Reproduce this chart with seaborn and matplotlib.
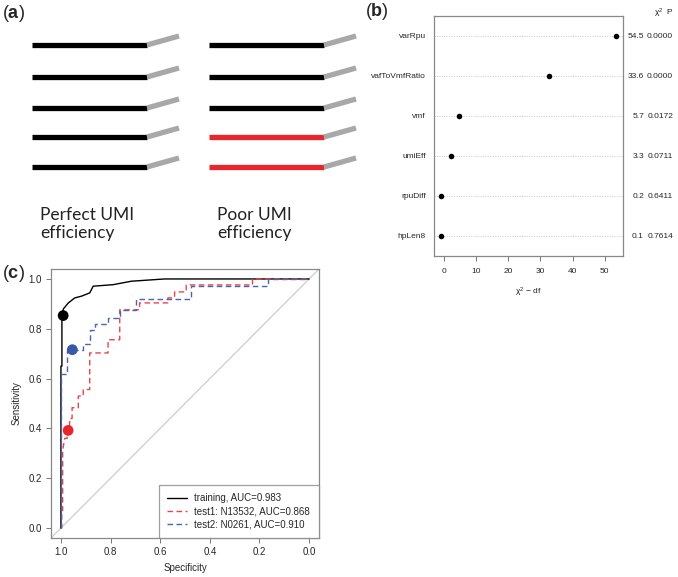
import numpy as np
import pandas as pd
import matplotlib
matplotlib.use('Agg')
import matplotlib.pyplot as plt
import seaborn as sns

sns.set_style('white')
plt.rcParams['font.family'] = ['Liberation Sans', 'DejaVu Sans']
plt.rcParams['mathtext.fontset'] = 'custom'
plt.rcParams['mathtext.rm'] = 'Liberation Sans'
plt.rcParams['mathtext.it'] = 'Liberation Sans:italic'
plt.rcParams['mathtext.bf'] = 'Liberation Sans:bold'

# ── Panel (a): UMI schematic ─────────────────────────────────
read_rows    = [1, 2, 3, 4, 5]
perfect_cols = ['black', 'black', 'black', 'black', 'black']
poor_cols    = ['black', 'black', 'black', '#e8262b', '#e8262b']
group_labels = ['Perfect UMI\nefficiency', 'Poor UMI\nefficiency']

# ── Panel (b): chi-square dot chart ──────────────────────────
b_vars  = ['varRpu', 'vafToVmfRatio', 'vmf', 'umiEff', 'rpuDiff', 'hpLen8']
b_chi2  = [54.5, 33.6, 5.7, 3.3, 0.2, 0.1]
b_df    = [1, 1, 1, 1, 1, 1]
b_p     = ['0.0000', '0.0000', '0.0172', '0.0711', '0.6411', '0.7614']

# ── Panel (c): ROC curves (specificity, sensitivity) ─────────
train_spec = [1.0, 1.0, 0.996, 0.996, 0.99, 0.97, 0.944, 0.917, 0.884, 0.87,
              0.79, 0.716, 0.582, 0.0]
train_sens = [0.0, 0.65, 0.65, 0.853, 0.88, 0.904, 0.924, 0.931, 0.944, 0.971,
              0.977, 0.991, 1.0, 1.0]
test1_spec = [1.0, 0.997, 0.997, 0.993, 0.993, 0.985, 0.975, 0.975, 0.965, 0.965,
              0.955, 0.955, 0.93, 0.93, 0.91, 0.91, 0.884, 0.884, 0.81, 0.81,
              0.763, 0.763, 0.683, 0.683, 0.569, 0.569, 0.542, 0.542, 0.495,
              0.495, 0.228, 0.228, 0.0]
test1_sens = [0.0, 0.0, 0.07, 0.07, 0.31, 0.36, 0.36, 0.39, 0.39, 0.44,
              0.44, 0.483, 0.483, 0.53, 0.53, 0.556, 0.556, 0.703, 0.703, 0.756,
              0.756, 0.876, 0.876, 0.904, 0.904, 0.924, 0.924, 0.948, 0.948,
              0.976, 0.976, 1.0, 1.0]
test2_spec = [1.0, 1.0, 0.977, 0.977, 0.91, 0.91, 0.884, 0.884, 0.863, 0.863,
              0.81, 0.81, 0.763, 0.763, 0.696, 0.696, 0.475, 0.475, 0.167,
              0.167, 0.0]
test2_sens = [0.0, 0.62, 0.62, 0.716, 0.716, 0.74, 0.74, 0.796, 0.796, 0.82,
              0.82, 0.844, 0.844, 0.876, 0.876, 0.92, 0.92, 0.971, 0.971,
              1.0, 1.0]
roc_labels = ['training, AUC=0.983', 'test1: N13532, AUC=0.868',
              'test2: N0261, AUC=0.910']
roc_colors = ['black', '#e8454a', '#4a64b0']
cut_spec   = [0.991, 0.971, 0.954]
cut_sens   = [0.853, 0.392, 0.716]
cut_colors = ['black', '#e8262b', '#3a58a8']

W, H = 678, 577
fig = plt.figure(figsize=(W / 100, H / 100), dpi=100)

def px_axes(l, t, r, b):
    return fig.add_axes([l / W, 1 - b / H, (r - l) / W, (b - t) / H])

# ── (a) ──────────────────────────────────────────────────────
axa = px_axes(0, 0, 400, 290)
axa.set_xlim(0, 400)
axa.set_ylim(290, 0)
axa.axis('off')
row_y = {1: 45, 2: 77, 3: 108, 4: 137, 5: 167}
for x0, cols, lab in [(32, perfect_cols, group_labels[0]),
                      (209, poor_cols, group_labels[1])]:
    for r, c in zip(read_rows, cols):
        y = row_y[r]
        axa.plot([x0, x0 + 115], [y, y], color=c, lw=3.8,
                 solid_capstyle='butt')
        axa.plot([x0 + 115, x0 + 147], [y, y - 9], color='#a8a8a8', lw=3.8,
                 solid_capstyle='butt')
    axa.text(x0 + 8, 207, lab, fontsize=12.5, family=['Lato', 'DejaVu Sans'],
             color='#222222', va='top', ha='left', linespacing=1.15)

# ── (b) ──────────────────────────────────────────────────────
axb = px_axes(434, 16, 623, 256)
bdf = pd.DataFrame({'var': b_vars, 'pos': np.arange(len(b_vars)),
                    'x': np.array(b_chi2) - np.array(b_df)})
for p in bdf['pos']:
    axb.axhline(p, color='#c8c8c8', lw=0.7, ls=(0, (1, 1.5)), zorder=0)
sns.scatterplot(data=bdf, x='x', y='pos', color='black', s=16,
                edgecolor='black', linewidth=0, ax=axb, zorder=3)
axb.set_ylim(len(b_vars) - 0.5, -0.5)
axb.set_xlim(-3.08, 55.68)
axb.set_yticks(bdf['pos'])
axb.set_yticklabels(b_vars)
axb.set_xticks([0, 10, 20, 30, 40, 50])
axb.tick_params(axis='y', length=0, labelsize=6, pad=6)
axb.tick_params(axis='x', direction='out', length=3.5, width=0.7,
                color='#777777', labelsize=6, pad=5, bottom=True)
axb.set_xlabel('χ$^2$ − df', fontsize=6, labelpad=8)
axb.set_ylabel('')
for s in axb.spines.values():
    s.set_color('#888888')
    s.set_linewidth(0.9)
tr = axb.get_yaxis_transform()
for p, c, pv in zip(bdf['pos'], b_chi2, b_p):
    axb.text(1.111, p, f'{c:.1f}', transform=tr, ha='right', va='center',
             fontsize=6)
    axb.text(1.265, p, pv, transform=tr, ha='right', va='center', fontsize=6)
axb.text(1.217, 1.0125, 'χ$^2$  P', transform=axb.transAxes, ha='center',
         va='center', fontsize=6)

# ── (c) ──────────────────────────────────────────────────────
axc = px_axes(51, 269, 319, 538)
axc.axline((1, 0), (0, 1), color='#c8c8c8', lw=0.8, zorder=1)
curves = [(train_spec, train_sens, '-'),
          (test1_spec, test1_sens, (0, (4, 2.5))),
          (test2_spec, test2_sens, (0, (4, 2.5)))]
for (sx, sy, ls), lab, col in zip(curves, roc_labels, roc_colors):
    sns.lineplot(x=sx, y=sy, sort=False, estimator=None, color=col,
                 linestyle=ls, lw=1.0, label=lab, ax=axc, zorder=2)
sns.scatterplot(x=cut_spec, y=cut_sens, hue=cut_colors, palette=dict(
    zip(cut_colors, cut_colors)), s=60, linewidth=0, legend=False, ax=axc,
    zorder=4)
axc.set_xlim(1.04, -0.04)
axc.set_ylim(-0.04, 1.04)
axc.set_xticks([1.0, 0.8, 0.6, 0.4, 0.2, 0.0])
axc.set_yticks([0.0, 0.2, 0.4, 0.6, 0.8, 1.0])
axc.xaxis.set_major_formatter(matplotlib.ticker.FormatStrFormatter('%.1f'))
axc.yaxis.set_major_formatter(matplotlib.ticker.FormatStrFormatter('%.1f'))
axc.tick_params(direction='out', length=3.5, width=0.7, color='#777777',
                labelsize=7, pad=3, bottom=True, left=True)
axc.set_xlabel('Specificity', fontsize=7, labelpad=4)
axc.set_ylabel('Sensitivity', fontsize=7, labelpad=5)
for s in axc.spines.values():
    s.set_color('#888888')
    s.set_linewidth(0.9)
leg = axc.legend(loc='lower right', fontsize=7, frameon=True, fancybox=False,
                 borderaxespad=0, handlelength=2.0, handletextpad=0.8,
                 labelspacing=0.3, borderpad=0.9)
leg.get_frame().set_edgecolor('#888888')
leg.get_frame().set_linewidth(0.9)

# panel letters
for x, y, l in [(2, 13, 'a'), (365, 12, 'b'), (2, 273, 'c')]:
    fig.text(x / W, 1 - y / H, '($\\mathbf{' + l + '}$)', fontsize=13,
             ha='left', va='center')

fig.savefig('out.png', dpi=100)
